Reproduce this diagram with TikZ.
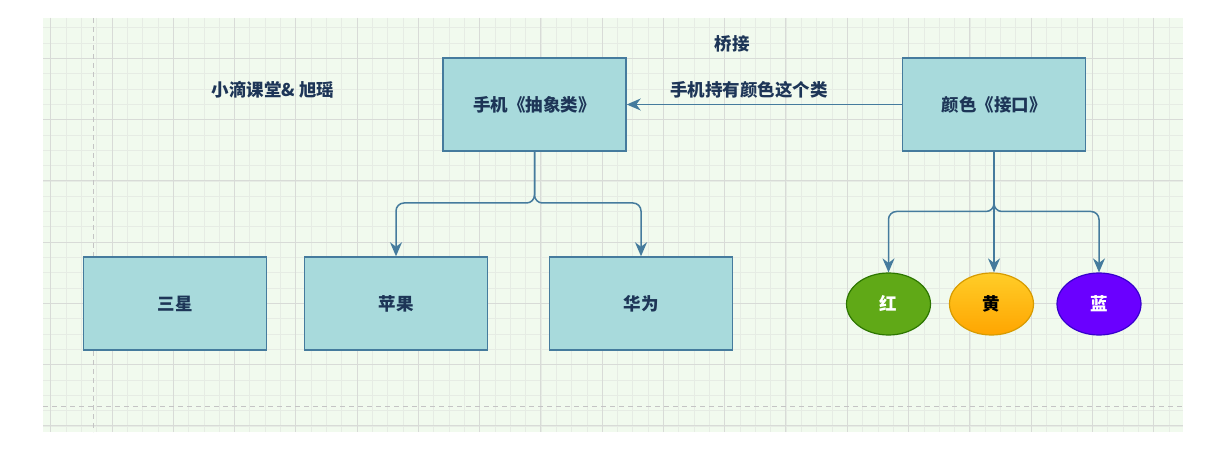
\documentclass[tikz,border=0pt]{standalone}
\usepackage{fontspec}
\setmainfont{Noto Sans CJK SC}
\usetikzlibrary{arrows.meta,shapes.geometric}
\definecolor{bg}{HTML}{F1FAEE}
\definecolor{boxfill}{HTML}{A8DADC}
\definecolor{boxline}{HTML}{457B9D}
\definecolor{txt}{HTML}{1D3557}
\definecolor{minorc}{HTML}{E6ECE4}
\definecolor{majorc}{HTML}{D8DBD7}
\definecolor{dashc}{HTML}{C4C4C4}
\definecolor{redfill}{HTML}{60A917}
\definecolor{redline}{HTML}{2D7600}
\definecolor{yeltop}{HTML}{FFCD28}
\definecolor{yelbot}{HTML}{FFA500}
\definecolor{yelline}{HTML}{D79B00}
\definecolor{bluefill}{HTML}{6A00FF}
\definecolor{blueline}{HTML}{3700CC}
\newcommand\lblfont{\fontsize{17.5}{20}\selectfont\bfseries}
\begin{document}
\begin{tikzpicture}[x=1pt,y=-1pt,
  box/.style={draw=boxline, fill=boxfill, line width=1.5pt, minimum width=183pt, minimum height=93pt, inner sep=0pt, text=txt, font=\lblfont},
  lbl/.style={text=txt, font=\lblfont, inner sep=0pt},
  conn/.style={draw=boxline, line width=1.5pt, rounded corners=8pt, -{Stealth[length=14pt,width=12pt,inset=4.5pt]}},
  oval/.style={ellipse, minimum width=84pt, minimum height=62pt, line width=1.2pt, inner sep=0pt, font=\lblfont}]
\useasboundingbox (0,0) rectangle (1229,465);
\fill[white] (0,0) rectangle (1229,465);
\fill[bg] (43,18) rectangle (1183,432);
\begin{scope}
\clip (43,18) rectangle (1183,432);
\foreach \i in {0,...,75} {\draw[minorc, line width=0.8pt] ({35.4+15.32*\i},18) -- ++(0,414);}
\foreach \i in {0,...,28} {\draw[minorc, line width=0.8pt] (43,{12.4+15.32*\i}) -- ++(1140,0);}
\foreach \i in {0,...,18} {\draw[majorc, line width=0.9pt] ({50.7+61.27*\i},18) -- ++(0,414);}
\foreach \i in {0,...,7} {\draw[majorc, line width=0.9pt] (43,{-2.97+61.27*\i}) -- ++(1140,0);}
\end{scope}
\draw[dashc, line width=1pt, dash pattern=on 5pt off 4pt] (93,18) -- (93,432);
\draw[dashc, line width=1pt, dash pattern=on 5pt off 4pt] (43,406.5) -- (1183,406.5);

\node[box] (phone) at (534.5,104.5) {手机《抽象类》};
\node[box] (color) at (994,104.5) {颜色《接口》};
\node[box] (sam) at (175,303.5) {三星};
\node[box] (apple) at (396,303.5) {苹果};
\node[box] (hw) at (641,303.5) {华为};

\node[oval, draw=redline, fill=redfill, text=white] (red) at (888.5,304) {红};
\node[oval, draw=yelline, top color=yeltop, bottom color=yelbot, text=black] (yellow) at (991.5,304) {黄};
\node[oval, draw=blueline, fill=bluefill, text=white] (blue) at (1099,304) {蓝};

\node[lbl] (title) at (732,44) {桥接};
\node[lbl] (author) at (273,90) {小滴课堂\&\ 旭瑶};
\node[lbl] (rel) at (749,90) {手机持有颜色这个类};

\coordinate (pj) at (0,203);
\coordinate (cj) at (0,211.5);
\draw[conn] (phone.south) -- (phone.south |- pj) -| (apple.north);
\draw[conn] (phone.south) -- (phone.south |- pj) -| (hw.north);
\draw[conn] (color.south) -- (color.south |- cj) -| (red.north);
\draw[conn] (color.south) -- (color.south |- yellow.north);
\draw[conn] (color.south) -- (color.south |- cj) -| (blue.north);
\draw[conn, rounded corners=0pt] (color.west) -- (phone.east);
\end{tikzpicture}
\end{document}
